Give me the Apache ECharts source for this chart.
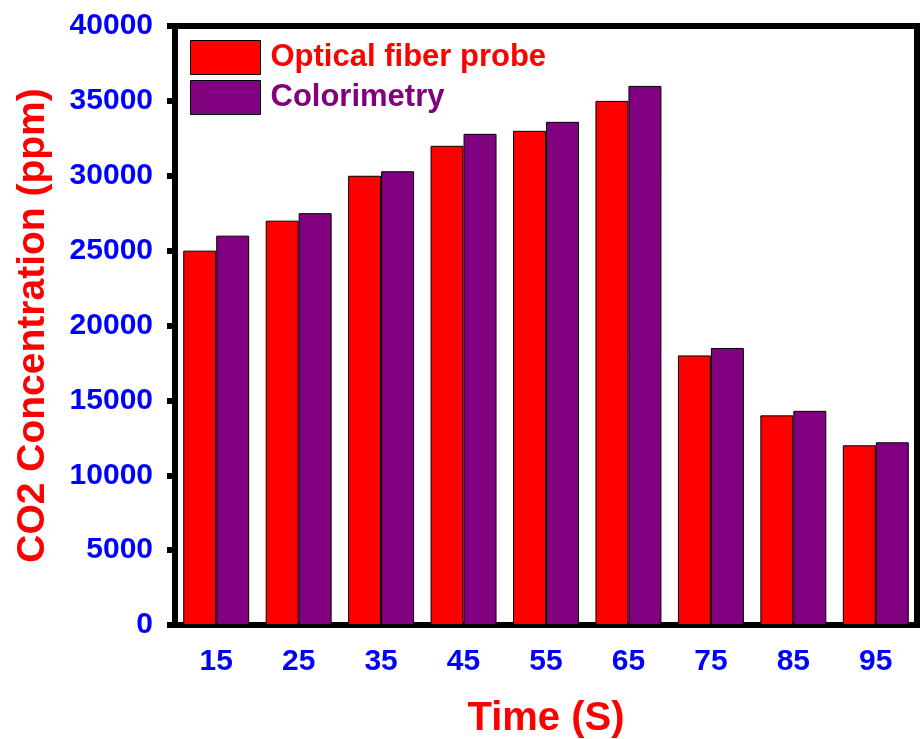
<html>
  <head>
    <meta charset="utf-8" />
    <script src="https://cdn.jsdelivr.net/npm/echarts@6/dist/echarts.min.js"></script>
  </head>
  <body>
    <style>
      html,
      body,
      #main {
        width: 100%;
        height: 100%;
        margin: 0;
      }
    </style>
    <div id="main"></div>
    <script>
      var chart = echarts.init(document.getElementById('main'));

      var times = ['15', '25', '35', '45', '55', '65', '75', '85', '95'];
      var opticalFiber = [25000, 27000, 30000, 32000, 33000, 35000, 18000, 14000, 12000];
      var colorimetry = [26000, 27500, 30300, 32800, 33600, 36000, 18500, 14300, 12200];
      var yTicks = [0, 5000, 10000, 15000, 20000, 25000, 30000, 35000, 40000];

      var font = 'Liberation Sans, Arial, sans-serif';

      var option = {
        animation: false,
        backgroundColor: '#fff',
        textStyle: { fontFamily: font },
        grid: {
          left: 175,
          top: 26,
          right: 3,
          bottom: 114,
          outerBoundsMode: 'none',
          containLabel: false,
          show: true,
          borderColor: '#000',
          borderWidth: 6
        },
        legend: {
          left: 190,
          top: 40,
          padding: 0,
          orient: 'vertical',
          icon: 'rect',
          itemWidth: 70,
          itemHeight: 34,
          itemGap: 5,
          itemStyle: { borderColor: '#000', borderWidth: 1 },
          textStyle: { fontSize: 31, fontWeight: 'bold', fontFamily: font, padding: [0, 0, 0, 5] },
          data: [
            { name: 'Optical fiber probe', textStyle: { color: '#ff0000' } },
            { name: 'Colorimetry', textStyle: { color: '#800080' } }
          ]
        },
        xAxis: {
          type: 'category',
          data: times,
          name: 'Time (S)',
          nameLocation: 'middle',
          nameGap: 74,
          nameTextStyle: { color: '#ff0000', fontSize: 40, fontWeight: 'bold', fontFamily: font },
          axisLine: { lineStyle: { color: '#000', width: 6 } },
          axisTick: { alignWithLabel: true, length: 10, lineStyle: { width: 6, color: '#000' } },
          axisLabel: { color: '#0000ff', fontSize: 30, fontWeight: 'bold', margin: 22, fontFamily: font }
        },
        yAxis: {
          type: 'value',
          min: yTicks[0],
          max: yTicks[yTicks.length - 1],
          interval: 5000,
          name: 'CO2 Concentration (ppm)',
          nameLocation: 'middle',
          nameGap: 122,
          nameRotate: 90,
          nameTextStyle: { color: '#ff0000', fontSize: 39, fontWeight: 'bold', fontFamily: font },
          splitLine: { show: false },
          axisLine: { show: true, lineStyle: { color: '#000', width: 6 } },
          axisTick: { show: true, length: 8, lineStyle: { width: 6, color: '#000' } },
          axisLabel: {
            color: '#0000ff',
            fontSize: 30,
            fontWeight: 'bold',
            margin: 22,
            fontFamily: font,
            formatter: function (v) {
              return String(v);
            }
          }
        },
        series: [
          {
            name: 'Optical fiber probe',
            type: 'bar',
            data: opticalFiber,
            barGap: '0%',
            barCategoryGap: '20%',
            itemStyle: { color: '#ff0000', borderColor: '#000', borderWidth: 1 }
          },
          {
            name: 'Colorimetry',
            type: 'bar',
            data: colorimetry,
            barGap: '0%',
            barCategoryGap: '20%',
            itemStyle: { color: '#800080', borderColor: '#000', borderWidth: 1 }
          }
        ]
      };

      chart.setOption(option);

      window.onresize = function () {
        chart.resize();
      };
    </script>
  </body>
</html>
